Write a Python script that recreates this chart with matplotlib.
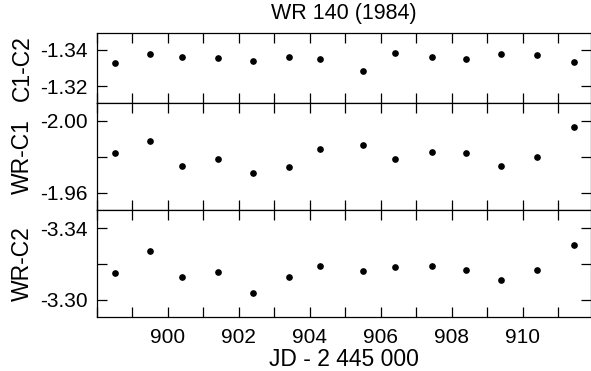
import matplotlib
matplotlib.use('Agg')
import matplotlib.pyplot as plt
from matplotlib.ticker import MultipleLocator, FormatStrFormatter

plt.rcParams['font.family'] = 'Liberation Sans'

# observation dates, JD - 2 445 000
jd = [898.5, 899.5, 900.4, 901.4, 902.4, 903.4, 904.3, 905.5, 906.4,
      907.45, 908.4, 909.4, 910.4, 911.45]

c1_c2 = [-1.3326, -1.3376, -1.3363, -1.3354, -1.3339, -1.3363, -1.3348,
         -1.3283, -1.3385, -1.3361, -1.3348, -1.3376, -1.3371, -1.3335]
wr_c1 = [-1.9819, -1.9886, -1.9748, -1.9786, -1.9709, -1.9741, -1.9844,
         -1.9867, -1.9789, -1.9826, -1.9819, -1.9748, -1.9800, -1.9967]
wr_c2 = [-3.3150, -3.3272, -3.3126, -3.3154, -3.3038, -3.3126, -3.3192,
         -3.3163, -3.3182, -3.3188, -3.3165, -3.3111, -3.3165, -3.3308]

x_ticks = [900, 902, 904, 906, 908, 910]

panels = [
    ('C1-C2', c1_c2, (-1.3106, -1.3494), [-1.34, -1.32]),
    ('WR-C1', wr_c1, (-1.9504, -2.0098), [-2.00, -1.98, -1.96]),
    ('WR-C2', wr_c2, (-3.2904, -3.3503), [-3.34, -3.32, -3.30]),
]
labelled = {'C1-C2': [-1.34, -1.32], 'WR-C1': [-2.00, -1.96], 'WR-C2': [-3.34, -3.30]}

fig = plt.figure(figsize=(5.91, 3.71), dpi=100)
left, right = 97 / 591, 591 / 591
rects = [(33, 103), (103, 210), (210, 317)]

axes = []
for (name, vals, ylim, yt), (top, bot) in zip(panels, rects):
    ax = fig.add_axes([left, 1 - bot / 371, right - left, (bot - top) / 371])
    ax.plot(jd, vals, 'o', color='black', ms=3.8, mec='black')
    ax.set_xlim(898.0, 911.93)
    ax.set_ylim(*ylim)
    ax.set_yticks(yt)
    ax.set_yticklabels(['%.2f' % v if any(abs(v - l) < 1e-6 for l in labelled[name]) else ''
                        for v in yt])
    ax.set_xticks(x_ticks)
    ax.xaxis.set_minor_locator(MultipleLocator(1))
    ax.xaxis.set_major_formatter(FormatStrFormatter('%d'))
    ax.tick_params(which='both', direction='in', top=True, right=True,
                   length=7, width=0.9, labelsize=15, pad=6.5)
    for s in ax.spines.values():
        s.set_linewidth(0.9)
    fig.text(22 / 591, 1 - (top + bot) / 2 / 371, name, rotation=90,
             ha='center', va='center', fontsize=16.5)
    axes.append(ax)

for ax in axes[:-1]:
    ax.tick_params(labelbottom=False)
axes[-1].tick_params(axis='x', pad=8)

axes[0].set_title('WR 140 (1984)', fontsize=15.5, pad=10)
axes[-1].set_xlabel('JD - 2 445 000', fontsize=16.5, labelpad=1)

fig.savefig('out.png', dpi=100)
